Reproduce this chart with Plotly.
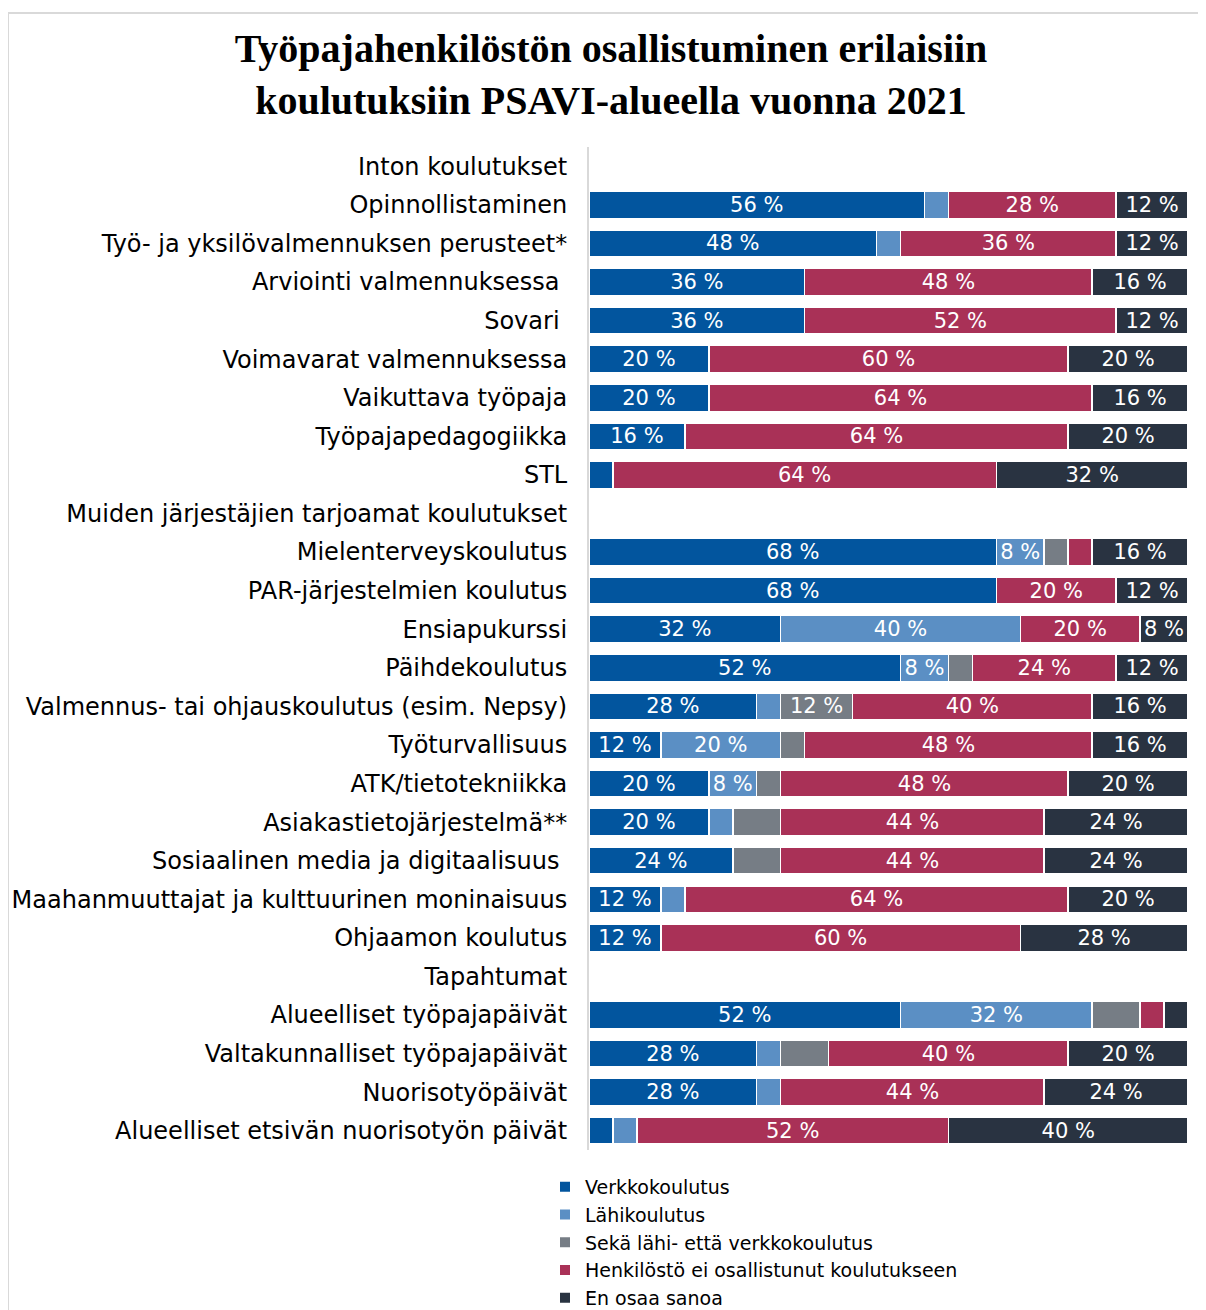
import plotly.graph_objects as go

categories = [
    "Inton koulutukset",
    "Opinnollistaminen",
    "Työ- ja yksilövalmennuksen perusteet*",
    "Arviointi valmennuksessa ",
    "Sovari ",
    "Voimavarat valmennuksessa",
    "Vaikuttava työpaja",
    "Työpajapedagogiikka",
    "STL",
    "Muiden järjestäjien tarjoamat koulutukset",
    "Mielenterveyskoulutus",
    "PAR-järjestelmien koulutus",
    "Ensiapukurssi",
    "Päihdekoulutus",
    "Valmennus- tai ohjauskoulutus (esim. Nepsy)",
    "Työturvallisuus",
    "ATK/tietotekniikka",
    "Asiakastietojärjestelmä**",
    "Sosiaalinen media ja digitaalisuus ",
    "Maahanmuuttajat ja kulttuurinen moninaisuus",
    "Ohjaamon koulutus",
    "Tapahtumat",
    "Alueelliset työpajapäivät",
    "Valtakunnalliset työpajapäivät",
    "Nuorisotyöpäivät",
    "Alueelliset etsivän nuorisotyön päivät",
]

verkko = [None, 56, 48, 36, 36, 20, 20, 16, 4, None, 68, 68, 32, 52, 28, 12, 20, 20, 24, 12, 12, None, 52, 28, 28, 4]
lahi = [None, 4, 4, 0, 0, 0, 0, 0, 0, None, 8, 0, 40, 8, 4, 20, 8, 4, 0, 4, 0, None, 32, 4, 4, 4]
molemmat = [None, 0, 0, 0, 0, 0, 0, 0, 0, None, 4, 0, 0, 4, 12, 4, 4, 8, 8, 0, 0, None, 8, 8, 0, 0]
ei_osallistunut = [None, 28, 36, 48, 52, 60, 64, 64, 64, None, 4, 20, 20, 24, 40, 48, 48, 44, 44, 64, 60, None, 4, 40, 44, 52]
en_osaa = [None, 12, 12, 16, 12, 20, 16, 20, 32, None, 16, 12, 8, 12, 16, 16, 20, 24, 24, 20, 28, None, 4, 20, 24, 40]

series = [
    ("Verkkokoulutus", verkko, "#02559E", 8),
    ("Lähikoulutus", lahi, "#5B8FC4", 8),
    ("Sekä lähi- että verkkokoulutus", molemmat, "#767D85", 12),
    ("Henkilöstö ei osallistunut koulutukseen", ei_osallistunut, "#A93157", 8),
    ("En osaa sanoa", en_osaa, "#293341", 8),
]

fig = go.Figure()
for name, vals, color, thr in series:
    texts = [(f"{v} %" if (v is not None and v >= thr) else "") for v in vals]
    fig.add_trace(go.Bar(
        name=name,
        y=categories,
        x=vals,
        orientation="h",
        marker=dict(color=color, line=dict(color="white", width=1.5)),
        text=texts,
        textposition="inside",
        insidetextanchor="middle",
        textangle=0,
        constraintext="none",
        insidetextfont=dict(family="DejaVu Sans", size=21, color="white"),
        hoverinfo="x+y+name",
    ))

# page has an 8px body margin; figure coords = page coords - 8
OFF = 8
W, H = 1206 - OFF, 1310 - OFF
L, R, T, B = 589 - OFF, 1188 - OFF, 147 - OFF, 1150 - OFF
pw, ph = R - L, B - T

def px(x):
    return (x - OFF - L) / pw

def py(y):
    return (B - (y - OFF)) / ph

fig.update_layout(
    width=W, height=H,
    margin=dict(l=L, r=W - R, t=T, b=H - B, pad=0, autoexpand=False),
    barmode="stack",
    bargap=0.3,
    plot_bgcolor="white",
    paper_bgcolor="white",
    font=dict(family="DejaVu Sans", size=20, color="#000000"),
    title=dict(
        text="<b>Työpajahenkilöstön osallistuminen erilaisiin<br>koulutuksiin PSAVI-alueella vuonna 2021</b>",
        x=(611 - OFF) / W, xanchor="center", xref="container",
        y=1 - (62 - OFF) / H, yanchor="top", yref="container",
        font=dict(family="Liberation Serif", size=40, color="#000000"),
    ),
    xaxis=dict(range=[0, 100], visible=False, fixedrange=True),
    yaxis=dict(
        categoryorder="array", categoryarray=categories,
        autorange="reversed",
        showline=True, linecolor="#D9D9D9", linewidth=2,
        showgrid=False, zeroline=False,
        ticks="", ticklabelstandoff=15,
        tickfont=dict(family="DejaVu Sans", size=24, color="#000000"),
    ),
    legend=dict(
        x=px(545), xanchor="left", y=py(1168), yanchor="top",
        orientation="v", traceorder="normal",
        font=dict(family="DejaVu Sans", size=19, color="#000000"),
        itemsizing="constant", tracegroupgap=0,
        bgcolor="rgba(0,0,0,0)",
    ),
    showlegend=True,
    shapes=[
        dict(type="path", xref="paper", yref="paper",
             path=f"M {px(1210)} {py(13)} L {px(8)} {py(13)} L {px(8)} {py(1320)}",
             line=dict(color="#D9D9D9", width=2)),
    ],
)

fig.write_html("out.html")
